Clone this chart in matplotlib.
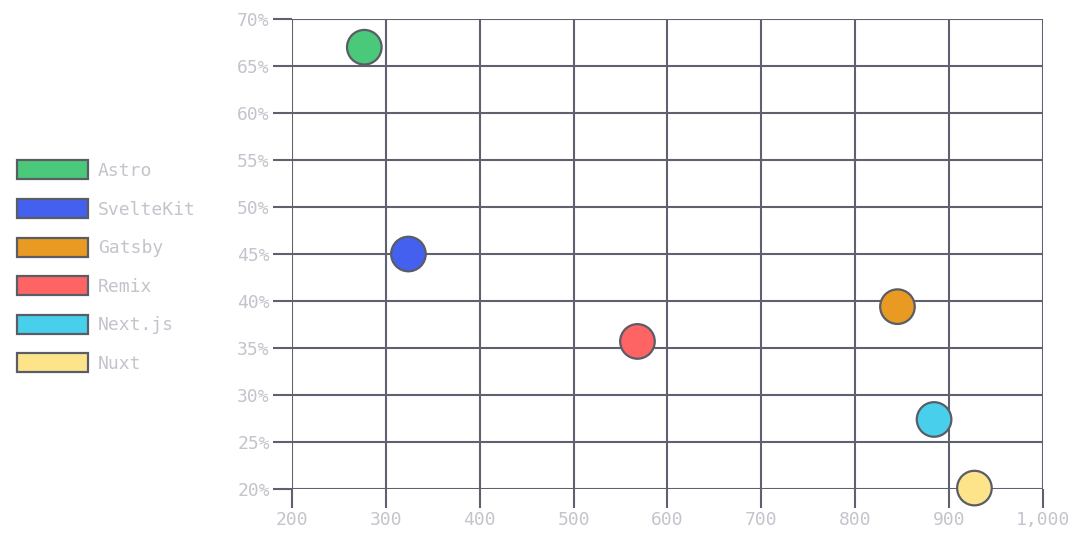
import matplotlib
matplotlib.use("Agg")
import matplotlib.pyplot as plt
from matplotlib.patches import Patch
from matplotlib.ticker import FuncFormatter, MultipleLocator

# frameworks, x value and percentage
names = ["Astro", "SvelteKit", "Gatsby", "Remix", "Next.js", "Nuxt"]
x_vals = [277, 324, 845, 568, 884, 927]
y_vals = [67.0, 45.0, 39.4, 35.7, 27.4, 20.1]
colors = ["#4ac97a", "#4361ee", "#e89a22", "#fe6464", "#48cfec", "#fde48a"]

grid_col = "#5f6170"
text_col = "#c3c4cc"

plt.rcParams["font.family"] = ["DejaVu Sans Mono"]

fig = plt.figure(figsize=(10.8, 5.4), dpi=100)
ax = fig.add_axes([0.2704, 0.0944, 0.6953, 0.8704])

ax.scatter(x_vals, y_vals, s=620, c=colors, edgecolors="#5a5c66",
           linewidths=1.6, zorder=3, clip_on=False)

ax.set_xlim(200, 1000)
ax.set_ylim(20, 70)
ax.xaxis.set_major_locator(MultipleLocator(100))
ax.yaxis.set_major_locator(MultipleLocator(5))
ax.xaxis.set_major_formatter(FuncFormatter(lambda v, p: f"{v:,.0f}"))
ax.yaxis.set_major_formatter(FuncFormatter(lambda v, p: f"{v:.0f}%"))

ax.grid(True, color=grid_col, linewidth=1.5, zorder=1)
for s in ax.spines.values():
    s.set_visible(False)
ax.tick_params(length=14, width=1.5, color=grid_col, labelcolor=text_col,
               labelsize=13, pad=2)

handles = [Patch(facecolor=c, edgecolor="#5a5c66", linewidth=1.6) for c in colors]
fig.legend(handles, names, loc="upper left", bbox_to_anchor=(0.016, 0.703),
           frameon=False, borderpad=0, borderaxespad=0, handlelength=3.9,
           handleheight=1.25, labelspacing=1.05, handletextpad=0.55,
           fontsize=13, labelcolor=text_col)

fig.savefig("out.png", dpi=100)
